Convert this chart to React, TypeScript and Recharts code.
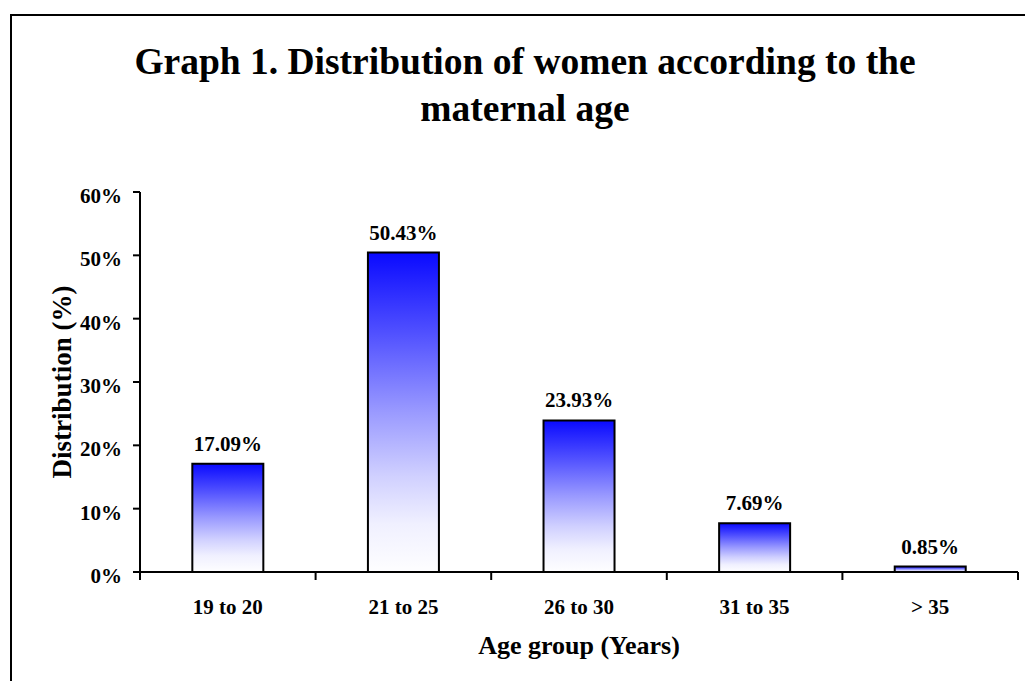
import React from 'react';
import { BarChart, Bar, XAxis, YAxis, LabelList } from 'recharts';

const categories = ['19 to 20', '21 to 25', '26 to 30', '31 to 35', '> 35'];
const distribution = [17.09, 50.43, 23.93, 7.69, 0.85];
const yTicks = [0, 10, 20, 30, 40, 50, 60];
const titleLines = ['Graph 1. Distribution of women according to the', 'maternal age'];
const xTitle = 'Age group (Years)';
const yTitle = 'Distribution (%)';

const data = categories.map((c, i) => ({ group: c, value: distribution[i] }));

const FONT = '"Liberation Serif", "Times New Roman", serif';

const CHART_W = 1025;
const MARGIN_L = 10;
const MARGIN_R = 7;
const Y_AXIS_W = 130;
const FALLBACK_HALF_BAND = (CHART_W - MARGIN_L - MARGIN_R - Y_AXIS_W) / categories.length / 2;

const CatTick = (props: any) => {
  const { x, y, payload, index } = props;
  const half = payload && payload.offset ? payload.offset : FALLBACK_HALF_BAND;
  const isLast = index === categories.length - 1;
  return (
    <g>
      <line x1={x - half} x2={x - half} y1={y} y2={y + 8} stroke="#000" strokeWidth={2} />
      {isLast && <line x1={x + half} x2={x + half} y1={y} y2={y + 8} stroke="#000" strokeWidth={2} />}
      <text x={x} y={y + 42} textAnchor="middle" fontFamily={FONT} fontWeight="bold" fontSize={21} fill="#000">
        {payload.value}
      </text>
    </g>
  );
};

const YTick = (props: any) => {
  const { x, y, payload } = props;
  return (
    <text x={x - 11} y={y + 11} textAnchor="end" fontFamily={FONT} fontWeight="bold" fontSize={21} fill="#000">
      {`${payload.value}%`}
    </text>
  );
};

const ValueLabel = (props: any) => {
  const { x, y, width, value } = props;
  return (
    <text x={x + width / 2} y={y - 13} textAnchor="middle" fontFamily={FONT} fontWeight="bold" fontSize={21} fill="#000">
      {`${Number(value).toFixed(2)}%`}
    </text>
  );
};

export default function App() {
  return (
    <div style={{ position: 'absolute', left: 0, top: 0, width: 1025, height: 681, overflow: 'hidden', background: '#fff' }}>
      <div style={{ position: 'absolute', left: 10, top: 14, width: 1100, height: 800, border: '2px solid #000', boxSizing: 'border-box' }} />
      <BarChart
        width={CHART_W}
        height={681}
        data={data}
        margin={{ top: 192, right: MARGIN_R, bottom: 0, left: MARGIN_L }}
        barCategoryGap="29.8%"
        style={{ position: 'absolute', left: 0, top: 0 }}
      >
        <defs>
          <linearGradient id="barGrad" x1="0" y1="0" x2="0" y2="1">
            <stop offset="0" stopColor="#0a0aff" />
            <stop offset="0.25" stopColor="#5050ff" />
            <stop offset="0.5" stopColor="#9a9aff" />
            <stop offset="0.7" stopColor="#d0d0ff" />
            <stop offset="0.85" stopColor="#f0f0ff" />
            <stop offset="1" stopColor="#fefeff" />
          </linearGradient>
        </defs>
        <XAxis
          dataKey="group"
          type="category"
          interval={0}
          axisLine={{ stroke: '#000', strokeWidth: 2 }}
          tickLine={false}
          tickSize={0}
          tickMargin={0}
          height={109}
          tick={<CatTick />}
        />
        <YAxis
          width={Y_AXIS_W}
          domain={[0, 60]}
          ticks={yTicks}
          interval={0}
          tickSize={7}
          tickMargin={0}
          axisLine={{ stroke: '#000', strokeWidth: 2 }}
          tickLine={{ stroke: '#000', strokeWidth: 2 }}
          tick={<YTick />}
        />
        <Bar dataKey="value" fill="url(#barGrad)" stroke="#000" strokeWidth={2} isAnimationActive={false}>
          <LabelList dataKey="value" content={<ValueLabel />} />
        </Bar>
      </BarChart>
      <svg width={1025} height={681} style={{ position: 'absolute', left: 0, top: 0, pointerEvents: 'none' }}>
        <text x={525} y={74} textAnchor="middle" fontFamily={FONT} fontWeight="bold" fontSize={37.5} fill="#000">
          {titleLines[0]}
        </text>
        <text x={525} y={121} textAnchor="middle" fontFamily={FONT} fontWeight="bold" fontSize={37.5} fill="#000">
          {titleLines[1]}
        </text>
        <text x={579} y={654} textAnchor="middle" fontFamily={FONT} fontWeight="bold" fontSize={26} fill="#000">
          {xTitle}
        </text>
        <text
          transform="translate(71, 382) rotate(-90)"
          textAnchor="middle"
          fontFamily={FONT}
          fontWeight="bold"
          fontSize={27}
          fill="#000"
        >
          {yTitle}
        </text>
      </svg>
    </div>
  );
}
